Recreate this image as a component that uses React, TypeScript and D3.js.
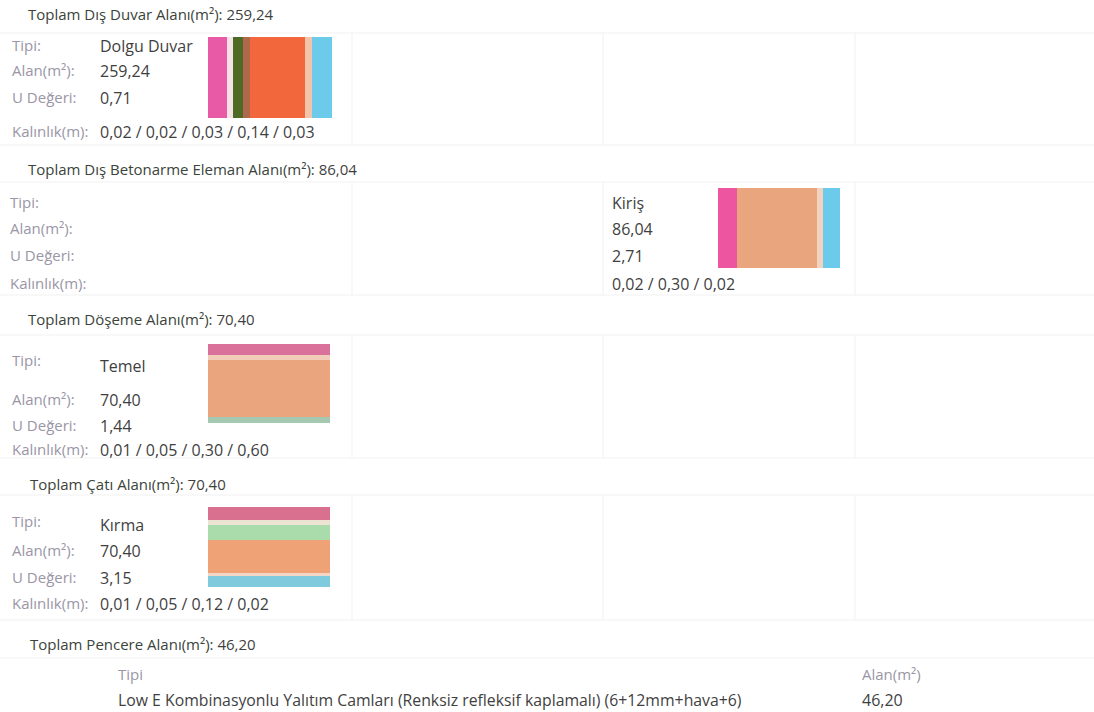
import React from 'react';
import * as d3 from 'd3';

// section data
const sectionTitles = [
  'Toplam Dış Duvar Alanı(m²):',
  'Toplam Dış Betonarme Eleman Alanı(m²):',
  'Toplam Döşeme Alanı(m²):',
  'Toplam Çatı Alanı(m²):',
  'Toplam Pencere Alanı(m²):',
];
const sectionTotals = ['259,24', '86,04', '70,40', '70,40', '46,20'];

const elementTypes = ['Dolgu Duvar', 'Kiriş', 'Temel', 'Kırma'];
const elementAreas = ['259,24', '86,04', '70,40', '70,40'];
const elementU = ['0,71', '2,71', '1,44', '3,15'];
const elementThickness = [
  '0,02 / 0,02 / 0,03 / 0,14 / 0,03',
  '0,02 / 0,30 / 0,02',
  '0,01 / 0,05 / 0,30 / 0,60',
  '0,01 / 0,05 / 0,12 / 0,02',
];
const rowLabels = ['Tipi:', 'Alan(m²):', 'U Değeri:', 'Kalınlık(m):'];

// layer shares
const wallLayers = [19, 6, 10, 7, 55, 7, 20];
const beamLayers = [19, 80, 6, 17];
const foundationLayers = [11, 5, 57, 6];
const roofLayers = [13, 5, 15, 33, 3, 11];

const windowType = 'Low E Kombinasyonlu Yalıtım Camları (Renksiz refleksif kaplamalı) (6+12mm+hava+6)';
const windowArea = '46,20';

// colours
const wallColors = ['#e95aa6', '#f5e3e8', '#4d6b24', '#b0684c', '#f2673c', '#f3c4a9', '#6ccbeb'];
const beamColors = ['#ee55a0', '#e9a67e', '#f3d3c0', '#6ccbeb'];
const foundationColors = ['#d9719b', '#f1cdb9', '#eaa47e', '#a5c9b0'];
const roofColors = ['#d9708f', '#ece3d2', '#aadcab', '#eea276', '#f2d7c6', '#7fcadd'];

const FONT = '"Open Sans", "Noto Sans", sans-serif';
const LABEL = '#9a96a6';
const VALUE = '#3f3f3f';
const HEAD = '#3a443a';
const GRID = '#f1f1f1';

interface BarProps {
  layers: number[];
  colors: string[];
  x: number;
  y: number;
  w: number;
  h: number;
  horizontal?: boolean;
}

const LayerBar: React.FC<BarProps> = ({ layers, colors, x, y, w, h, horizontal }) => {
  const ends = Array.from(d3.cumsum(layers));
  const starts = [0, ...ends.slice(0, -1)];
  const total = ends[ends.length - 1];
  const scale = d3.scaleLinear().domain([0, total]).range(horizontal ? [y, y + h] : [x, x + w]);
  return (
    <g>
      {layers.map((_, i) =>
        horizontal ? (
          <rect key={i} x={x} y={scale(starts[i])} width={w} height={scale(ends[i]) - scale(starts[i])} fill={colors[i]} />
        ) : (
          <rect key={i} x={scale(starts[i])} y={y} width={scale(ends[i]) - scale(starts[i])} height={h} fill={colors[i]} />
        )
      )}
    </g>
  );
};

const T: React.FC<{ x: number; y: number; c?: string; s?: number; children: React.ReactNode; w?: number }> = ({ x, y, c = VALUE, s = 16, children, w }) => (
  <text x={x} y={y} dy="0.35em" fill={c} fontSize={s} fontFamily={FONT} fontWeight={w}>
    {children}
  </text>
);

const App: React.FC = () => {
  React.useEffect(() => {
    document.body.style.margin = '0';
  }, []);

  const headerY = [15, 170, 320, 485, 645];
  const rowsY = [
    [46, 71, 98, 132],
    [203, 229, 256, 284],
    [361, 400, 426, 450],
    [522, 551, 578, 604],
  ];
  const typeY = [46, 203, 366, 525];
  const valueX = [100, 612, 100, 100];
  const cells = [
    [33, 145],
    [182, 295],
    [335, 458],
    [495, 620],
  ];
  const colX = [0, 352, 603, 855, 1094];

  return (
    <svg width={1094} height={712} style={{ display: 'block', background: '#fff' }}>
      {/* faint panel grid */}
      {cells.map(([y0, y1], si) => (
        <g key={si}>
          <line x1={0} x2={1094} y1={y0} y2={y0} stroke={GRID} />
          <line x1={0} x2={1094} y1={y1} y2={y1} stroke={GRID} />
          {colX.slice(1, -1).map((cx, j) => (
            <line key={j} x1={cx} x2={cx} y1={y0} y2={y1} stroke={GRID} />
          ))}
        </g>
      ))}
      <line x1={0} x2={1094} y1={658} y2={658} stroke={GRID} />

      {sectionTitles.map((t, i) => (
        <T key={i} x={i === 3 || i === 4 ? 30 : 28} y={headerY[i]} c={HEAD} s={15} w={500}>
          {t} <tspan fill={VALUE} fontWeight={400}>{sectionTotals[i]}</tspan>
        </T>
      ))}

      {elementTypes.map((_, si) => (
        <g key={si}>
          {rowLabels.map((l, r) => (
            <T key={r} x={si === 1 ? 10 : 12} y={rowsY[si][r]} c={LABEL} s={15}>
              {l}
            </T>
          ))}
          <T x={valueX[si]} y={typeY[si]}>{elementTypes[si]}</T>
          <T x={valueX[si]} y={rowsY[si][1]}>{elementAreas[si]}</T>
          <T x={valueX[si]} y={rowsY[si][2]}>{elementU[si]}</T>
          <T x={valueX[si]} y={rowsY[si][3]}>{elementThickness[si]}</T>
        </g>
      ))}

      <LayerBar layers={wallLayers} colors={wallColors} x={208} y={37} w={124} h={81} />
      <LayerBar layers={beamLayers} colors={beamColors} x={718} y={188} w={122} h={80} />
      <LayerBar layers={foundationLayers} colors={foundationColors} x={208} y={344} w={122} h={79} horizontal />
      <LayerBar layers={roofLayers} colors={roofColors} x={208} y={507} w={122} h={80} horizontal />

      <T x={118} y={675} c={LABEL} s={15}>Tipi</T>
      <T x={118} y={700} s={15.8}>{windowType}</T>
      <T x={862} y={675} c={LABEL} s={15}>Alan(m²)</T>
      <T x={862} y={700}>{windowArea}</T>
    </svg>
  );
};

export default App;
